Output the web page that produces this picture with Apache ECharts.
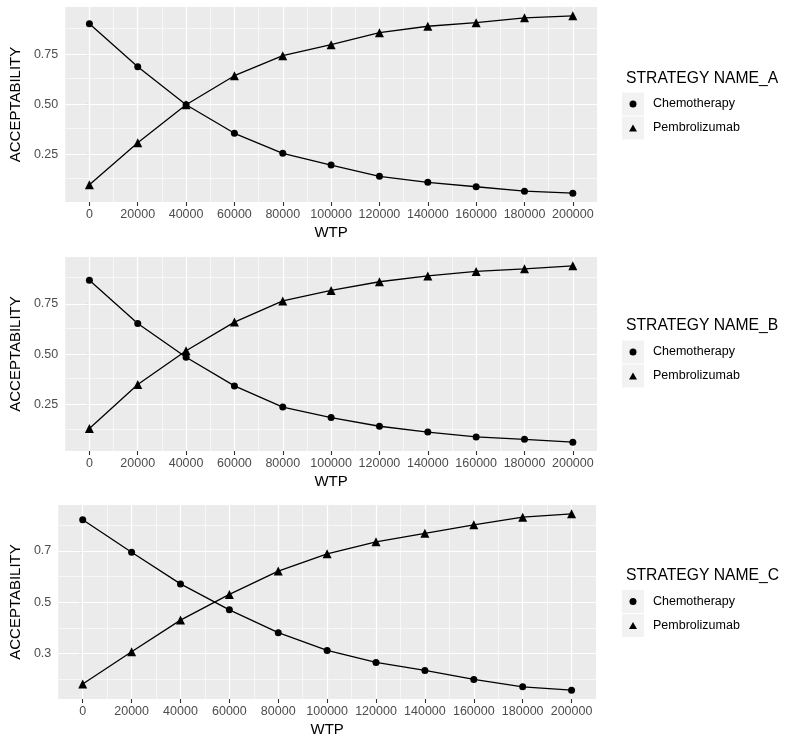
<!DOCTYPE html>
<html>
<head>
<meta charset="utf-8">
<script src="https://cdn.jsdelivr.net/npm/echarts@6/dist/echarts.min.js"></script>
<style>html,body{margin:0;padding:0;background:#fff}#c{width:800px;height:746px}</style>
</head>
<body>
<div id="c"></div>
<script>
// ---- data ----
const wtp = [0, 20000, 40000, 60000, 80000, 100000, 120000, 140000, 160000, 180000, 200000];
const chemoA = [0.905, 0.69, 0.50, 0.357, 0.257, 0.198, 0.142, 0.112, 0.09, 0.068, 0.058];
const pembroA = [0.10, 0.31, 0.50, 0.645, 0.745, 0.80, 0.86, 0.892, 0.91, 0.934, 0.944];
const chemoB = [0.867, 0.652, 0.485, 0.343, 0.238, 0.186, 0.143, 0.114, 0.09, 0.078, 0.064];
const pembroB = [0.132, 0.35, 0.517, 0.659, 0.764, 0.816, 0.859, 0.888, 0.91, 0.923, 0.938];
const chemoC = [0.821, 0.694, 0.571, 0.470, 0.381, 0.312, 0.265, 0.234, 0.199, 0.170, 0.157];
const pembroC = [0.181, 0.307, 0.430, 0.530, 0.621, 0.688, 0.735, 0.768, 0.801, 0.831, 0.844];
const seriesNames = ['Chemotherapy', 'Pembrolizumab'];
const legendTitles = ['STRATEGY NAME_A', 'STRATEGY NAME_B', 'STRATEGY NAME_C'];
const xTicks = [0, 20000, 40000, 60000, 80000, 100000, 120000, 140000, 160000, 180000, 200000];
const xMinor = [10000, 30000, 50000, 70000, 90000, 110000, 130000, 150000, 170000, 190000];
const yTicksAB = [0.25, 0.50, 0.75];
const yMinorAB = [0.125, 0.375, 0.625, 0.875];
const yTicksC = [0.3, 0.5, 0.7];
const yMinorC = [0.2, 0.4, 0.6, 0.8];

// ---- layout ----
const FONT = 'Liberation Sans, Arial, Helvetica, sans-serif';
const panels = [
  {chemo: chemoA, pembro: pembroA, ticks: yTicksAB, minor: yMinorAB, dec: 2,
   grid: {left: 58, right: 203, top: 7, height: 195}, yGap: 36, legTitle: 79, legBox: 104},
  {chemo: chemoB, pembro: pembroB, ticks: yTicksAB, minor: yMinorAB, dec: 2,
   grid: {left: 58, right: 203, top: 257, height: 194}, yGap: 36, legTitle: 326, legBox: 352},
  {chemo: chemoC, pembro: pembroC, ticks: yTicksC, minor: yMinorC, dec: 1,
   grid: {left: 51, right: 204, top: 505, height: 194}, yGap: 29, legTitle: 576, legBox: 601.5}
];

const grids = [], xAxes = [], yAxes = [], series = [], legends = [], titles = [], graphics = [];
const xRange = wtp[wtp.length - 1] - wtp[0];

panels.forEach((p, i) => {
  grids.push(Object.assign({show: true, backgroundColor: '#EBEBEB', borderWidth: 0}, p.grid));
  xAxes.push({
    type: 'value', gridIndex: i,
    min: wtp[0] - 0.05 * xRange, max: wtp[wtp.length - 1] + 0.05 * xRange,
    name: 'WTP', nameLocation: 'middle', nameGap: 23,
    nameTextStyle: {fontFamily: FONT, fontSize: 15, color: '#000'},
    axisLine: {show: false},
    axisTick: {show: true, length: 4, customValues: xTicks, lineStyle: {color: '#333', width: 1.1}},
    axisLabel: {customValues: xTicks, margin: 6, fontFamily: FONT, fontSize: 12.5, color: '#4D4D4D',
      formatter: v => String(v)},
    splitLine: {show: false}
  });
  const all = p.chemo.concat(p.pembro);
  const lo = Math.min(...all), hi = Math.max(...all), pad = 0.05 * (hi - lo);
  yAxes.push({
    type: 'value', gridIndex: i, min: lo - pad, max: hi + pad,
    name: 'ACCEPTABILITY', nameLocation: 'middle', nameGap: p.yGap,
    nameTextStyle: {fontFamily: FONT, fontSize: 15, color: '#000'},
    axisLine: {show: false},
    axisTick: {show: true, length: 4, customValues: p.ticks, lineStyle: {color: '#333', width: 1.1}},
    axisLabel: {customValues: p.ticks, margin: 7, fontFamily: FONT, fontSize: 12.5, color: '#4D4D4D',
      formatter: v => Number(v).toFixed(p.dec)},
    splitLine: {show: false}
  });
  // gridlines
  const mk = (vals, key, w) => vals.map(v => ({[key]: v, lineStyle: {color: '#fff', width: w, type: 'solid'}}));
  series.push({
    type: 'line', xAxisIndex: i, yAxisIndex: i, data: [], z: 1, silent: true,
    markLine: {silent: true, z: 1, symbol: ['none', 'none'], label: {show: false},
      emphasis: {disabled: true}, animation: false,
      data: [].concat(mk(xMinor, 'xAxis', 0.6), mk(p.minor, 'yAxis', 0.6),
                      mk(xTicks, 'xAxis', 1.2), mk(p.ticks, 'yAxis', 1.2))}
  });
  const mkSeries = (name, vals, sym, size) => ({
    name, type: 'line', xAxisIndex: i, yAxisIndex: i, z: 10,
    data: wtp.map((x, k) => [x, vals[k]]),
    symbol: sym, symbolSize: size, showSymbol: true,
    lineStyle: {color: '#000', width: 1.3},
    itemStyle: {color: '#000'},
    emphasis: {disabled: true}
  });
  series.push(mkSeries(seriesNames[0], p.chemo, 'circle', 7));
  series.push(mkSeries(seriesNames[1], p.pembro, 'triangle', 9));

  titles.push({text: legendTitles[i], left: 626, top: p.legTitle - 8, padding: 0,
    textStyle: {fontFamily: FONT, fontSize: 15.7, fontWeight: 'normal', color: '#000'}});
  legends.push({
    orient: 'vertical', left: 629, top: p.legBox - 7, padding: 0,
    itemWidth: 8, itemHeight: 7, itemGap: 10, selectedMode: false,
    textStyle: {fontFamily: FONT, fontSize: 12.5, color: '#000', lineHeight: 14, padding: [0, 0, 0, 11]},
    data: [
      {name: seriesNames[0], icon: 'circle', itemStyle: {color: '#000'}},
      {name: seriesNames[1], icon: 'triangle', itemStyle: {color: '#000'}}
    ]
  });
  graphics.push({type: 'rect', left: 622, top: p.legBox - 11.5, shape: {width: 22, height: 23},
    style: {fill: '#F2F2F2'}, z: -1, silent: true});
  graphics.push({type: 'rect', left: 622, top: p.legBox + 12.5, shape: {width: 22, height: 23},
    style: {fill: '#F2F2F2'}, z: -1, silent: true});
});

const chart = echarts.init(document.getElementById('c'), null, {renderer: 'canvas'});
chart.setOption({
  animation: false,
  backgroundColor: '#fff',
  title: titles,
  legend: legends,
  grid: grids,
  xAxis: xAxes,
  yAxis: yAxes,
  series: series,
  graphic: graphics
});
</script>
</body>
</html>
